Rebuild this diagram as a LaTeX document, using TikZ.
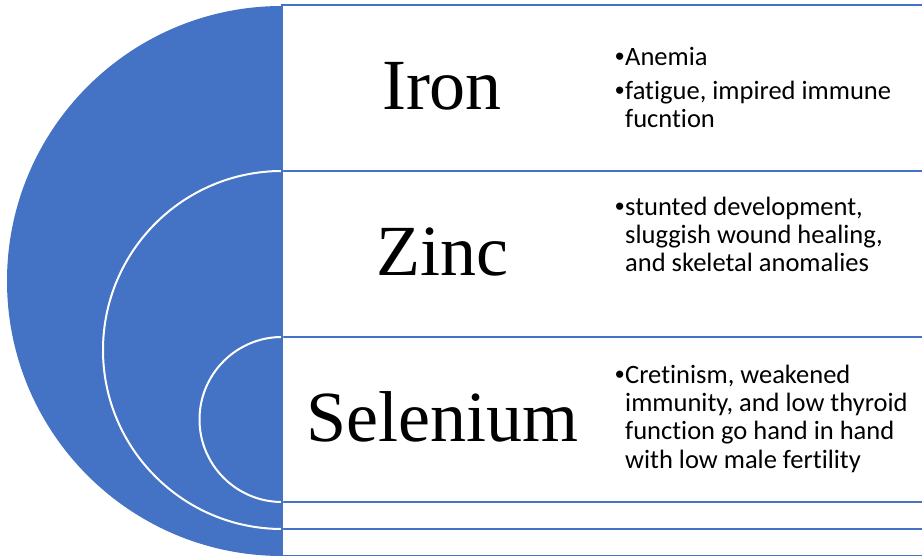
\documentclass[tikz,border=0pt]{standalone}
\usepackage{fontspec}
\setmainfont{Liberation Serif}
\newfontfamily\notefont[Ligatures=NoCommon]{Carlito}
\newfontfamily\bulfont{Liberation Sans}
\usetikzlibrary{positioning}
\definecolor{ringblue}{HTML}{4472C4}
\newcommand{\bul}{\llap{\makebox[10pt][l]{\bulfont •}}}

\begin{document}
\begin{tikzpicture}[x=1pt, y=1pt,
  row/.style={draw=ringblue, line width=2pt, fill=white},
  disk/.style={fill=ringblue, draw=white, line width=2pt},
  title/.style={anchor=base, inner sep=0pt, font=\fontsize{72}{80}\selectfont},
  note/.style={anchor=base west, inner sep=0pt, align=left,
    font=\notefont\fontsize{26.5}{28.3}\selectfont}]
  \useasboundingbox (0,0) rectangle (922,556);
  \clip (0,0) rectangle (922,556);
  % Rows
  \draw[row] (282,0) rectangle (940,551);
  \draw[row] (282,27) rectangle (940,385);
  \draw[row] (282,54) rectangle (940,219);
  % Half discs
  \fill[ringblue] (282,550) arc[start angle=90, end angle=270, radius=275] -- cycle;
  \filldraw[disk] (282,385) arc[start angle=90, end angle=270, radius=179] -- cycle;
  \filldraw[disk] (282,219) arc[start angle=90, end angle=270, radius=82.5] -- cycle;
  \draw[ringblue, line width=2pt] (282,0) -- (282,551);
  % Titles
  \node[title] (iron) at (442,446) {Iron};
  \node[title] (zinc) at (442,280) {Zinc};
  \node[title] (selenium) at (442,114) {Selenium};
  % Notes (base = last line)
  \node[note] (ironnote) at (625,428.3) {\bul Anemia\\[5.7pt]
    \bul fatigue, impired immune\\ fucntion};
  \node[note] (zincnote) at (625,284.3) {\bul stunted development,\\
    sluggish wound healing,\\ and skeletal anomalies};
  \node[note] (selnote) at (625,87.7) {\bul Cretinism, weakened\\
    immunity, and low thyroid\\ function go hand in hand\\ with low male fertility};
\end{tikzpicture}
\end{document}
